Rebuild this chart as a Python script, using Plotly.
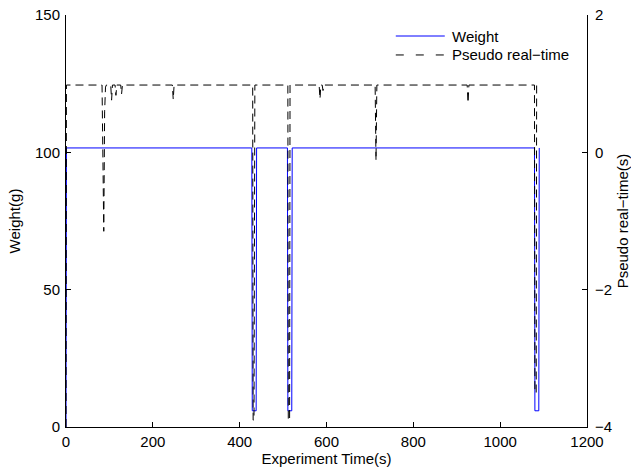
import plotly.graph_objects as go

# Weight reading (g) against experiment time (s)
weight_time = [0, 1, 428, 429, 438, 439, 510, 511, 520, 521, 1079, 1080, 1089, 1090]
weight_g = [0, 101.6, 101.6, 5.9, 5.9, 101.6, 101.6, 5.9, 5.9, 101.6, 101.6, 5.9, 5.9, 101.6]

# Pseudo real-time (s) against experiment time (s)
pseudo_time = [0, 1, 83, 85, 87, 89, 91, 93, 103, 105, 107, 113, 115, 117, 126, 128, 130,
               245, 247, 249, 430, 431, 433, 435, 511, 512, 515, 516, 583, 585, 587, 590,
               592, 594, 712, 714, 716, 924, 926, 928, 1079, 1080, 1083, 1084, 1092]
pseudo_s = [-4.0, 0.98, 0.98, 0.2, -1.15, 0.6, 0.95, 0.98, 0.98, 0.76, 0.98, 0.98, 0.83,
            0.98, 0.98, 0.85, 0.98, 0.98, 0.77, 0.98, 0.98, -3.9, -3.9, 0.98, 0.98, -3.9,
            -3.9, 0.98, 0.98, 0.78, 0.98, 0.98, 0.9, 0.98, 0.98, -0.12, 0.98, 0.98, 0.72,
            0.98, 0.98, -3.5, -3.5, 0.98, 0.98]

x_ticks = [0, 200, 400, 600, 800, 1000, 1200]
left_ticks = [0, 50, 100, 150]
right_ticks = [-4, -2, 0, 2]

series_names = ["Weight", "Pseudo real\u2212time"]
series_colors = ["#0000ff", "#000000"]

font_family = "Liberation Sans, Arial, Helvetica, sans-serif"
fs = 15

fig = go.Figure()
fig.add_trace(go.Scatter(
    x=weight_time, y=weight_g, mode="lines", name=series_names[0],
    line=dict(color=series_colors[0], width=1), yaxis="y", showlegend=False))
fig.add_trace(go.Scatter(
    x=pseudo_time, y=pseudo_s, mode="lines", name=series_names[1],
    line=dict(color=series_colors[1], width=1, dash="8px,5px"), yaxis="y2",
    showlegend=False))

axis_common = dict(
    showgrid=False, zeroline=False, showline=True, linecolor="black", linewidth=1,
    ticks="inside", ticklen=5, tickwidth=1, tickcolor="black", automargin=False,
    tickfont=dict(family=font_family, size=fs, color="black"),
)

# Legend box (no frame), top right inside the axes
legend_rows = [0.949, 0.903]
legend_dash = ["solid", "8px,12px"]
shapes = []
annotations = []
for name, color, dash, yy in zip(series_names, series_colors, legend_dash, legend_rows):
    shapes.append(dict(type="line", xref="paper", yref="paper",
                       x0=0.633, x1=0.727, y0=yy, y1=yy,
                       line=dict(color=color, width=1, dash=dash)))
    annotations.append(dict(text=name, xref="paper", yref="paper", x=0.737, y=yy,
                            xanchor="left", yanchor="middle", showarrow=False,
                            font=dict(family=font_family, size=fs, color="black")))

fig.update_layout(
    template="none",
    width=631, height=470,
    margin=dict(l=66, r=44, t=15, b=43),
    paper_bgcolor="white", plot_bgcolor="white",
    font=dict(family=font_family, size=fs, color="black"),
    showlegend=False,
    shapes=shapes,
    annotations=annotations,
    xaxis=dict(range=[0, 1200], tickvals=x_ticks, ticklabelstandoff=1,
               title=dict(text="Experiment Time(s)", standoff=2,
                          font=dict(family=font_family, size=fs)),
               **axis_common),
    yaxis=dict(range=[0, 150], tickvals=left_ticks, ticklabelstandoff=2,
               title=dict(text="Weight(g)", standoff=10,
                          font=dict(family=font_family, size=fs)),
               **axis_common),
    yaxis2=dict(range=[-4, 2], tickvals=right_ticks, overlaying="y", side="right",
                ticklabelstandoff=4,
                title=dict(text="Pseudo real\u2212time(s)", standoff=6,
                           font=dict(family=font_family, size=fs)),
                **axis_common),
)

fig.write_html("out.html")
